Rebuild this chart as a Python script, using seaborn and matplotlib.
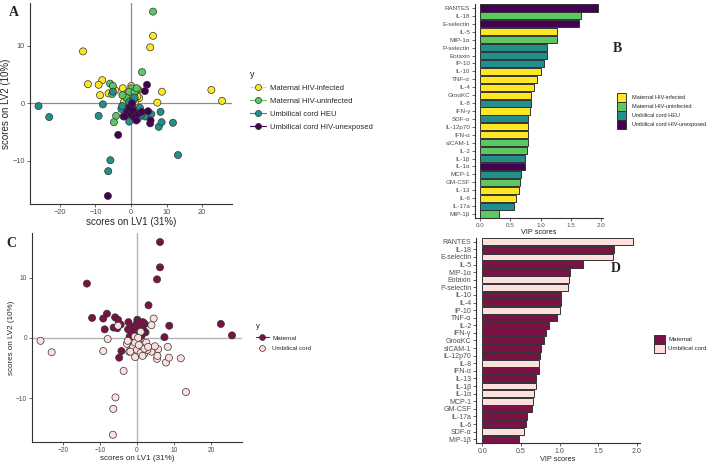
import numpy as np
import pandas as pd
import matplotlib
matplotlib.use("Agg")
import matplotlib.pyplot as plt
import seaborn as sns
from matplotlib.lines import Line2D

sns.set_theme(style="ticks")
plt.rcParams["font.family"] = ["Liberation Sans", "DejaVu Sans"]

W, H = 709, 465  # figure size in pixels

# ---- PLS-DA scores ----
groups = ["Maternal HIV-infected", "Maternal HIV-uninfected",
          "Umbilical cord HEU", "Umbilical cord HIV-unexposed"]
group_colors = ["#FDE725", "#5DC863", "#21908C", "#440154"]

mhi_lv1 = [-13.5, -12.1, -8.1, -9.1, -8.7, -6.3, -4.4, -2.3, 0.1, 2.1, 2.3, 5.4, 6.2, 8.7, 7.4, 22.6, 25.6,
           -1.5, -0.8, 0.5, 1.2, -2.0, 0.2, -1.0, 1.8]
mhi_lv2 = [9.0, 3.3, 4.0, 3.2, 1.4, 1.7, 2.2, 2.6, 3.0, 2.3, 0.9, 9.7, 11.7, 2.0, 0.1, 2.3, 0.4,
           1.2, 0.5, 1.5, 0.3, 0.2, -0.3, 1.8, 1.2]

mhu_lv1 = [6.2, 3.1, -5.9, -5.3, -4.2, -4.8, 0.1, 1.6, -5.1, -0.5, 1.0, -1.3, 0.8, -0.3, 1.6, -2.4]
mhu_lv2 = [15.9, 5.4, 3.4, 1.6, -2.2, -3.3, 2.6, 2.2, 3.0, 2.0, 1.9, 0.9, 0.6, -0.2, 2.6, 1.4]

heu_lv1 = [-26.0, -23.0, -9.1, -7.9, -5.1, -5.8, -6.4, 13.2, 11.8, 7.8, 8.6, 8.3, 5.7, 3.9, 1.9, -0.5, -2.7,
           -2.5, -1.2, 0.5, 1.5, 2.5, -0.6, 1.0, 2.8]
heu_lv2 = [-0.5, -2.4, -2.2, -0.2, 2.0, -9.9, -11.8, -9.0, -3.4, -4.1, -3.3, -1.5, -1.9, -2.3, -2.7, -3.2, -1.0,
           -0.5, -1.6, -0.8, -1.2, -0.8, 0.2, 1.0, -2.0]

hun_lv1 = [-6.5, -3.6, 4.5, 3.9, 5.4, 5.5, 4.8, -2.1, -1.0, 0.0, 1.0, 2.0, -0.5, 0.3, -1.8, 3.0, 1.5, 0.5]
hun_lv2 = [-16.1, -5.5, 3.2, 2.1, -3.5, -3.0, -1.4, -2.3, -1.5, -2.0, -2.5, -1.8, -0.8, 0.0, -2.3, -1.5, -3.0, -1.2]

tissues = ["Maternal", "Umbilical cord"]
tissue_colors = ["#7A1246", "#FDE0DD"]
tissue_of_group = {groups[0]: "Maternal", groups[1]: "Maternal",
                   groups[2]: "Umbilical cord", groups[3]: "Umbilical cord"}

# ---- VIP scores, panel B ----
vip4_cyto = ["RANTES", "IL-18", "E-selectin", "IL-5", "MIP-1α", "P-selectin", "Eotaxin", "IP-10",
             "IL-10", "TNF-α", "IL-4", "GroαKC", "IL-8", "IFN-γ", "SDF-α", "IL-12p70", "IFN-α",
             "sICAM-1", "IL-2", "IL-1β", "IL-1α", "MCP-1", "GM-CSF", "IL-13", "IL-6", "IL-17a", "MIP-1β"]
vip4_score = [1.95, 1.66, 1.64, 1.27, 1.27, 1.11, 1.10, 1.05, 1.00, 0.95, 0.89, 0.85, 0.85, 0.82, 0.80,
              0.80, 0.79, 0.79, 0.78, 0.75, 0.74, 0.68, 0.66, 0.64, 0.60, 0.56, 0.31]
vip4_group = [3, 1, 3, 0, 1, 2, 2, 2, 0, 0, 0, 0, 2, 0, 2, 0, 0, 1, 1, 2, 3, 2, 1, 0, 0, 2, 1]

# ---- VIP scores, panel D ----
vip2_cyto = ["RANTES", "IL-18", "E-selectin", "IL-5", "MIP-1α", "Eotaxin", "P-selectin", "IL-10",
             "IL-4", "IP-10", "TNF-α", "IL-2", "IFN-γ", "GroαKC", "sICAM-1", "IL-12p70", "IL-8",
             "IFN-α", "IL-13", "IL-1β", "IL-1α", "MCP-1", "GM-CSF", "IL-17a", "IL-6", "SDF-α", "MIP-1β"]
vip2_score = [1.95, 1.71, 1.69, 1.30, 1.14, 1.12, 1.11, 1.02, 1.02, 1.00, 0.97, 0.86, 0.82, 0.80, 0.76,
              0.75, 0.73, 0.73, 0.69, 0.69, 0.67, 0.66, 0.65, 0.58, 0.57, 0.54, 0.47]
vip2_group = [1, 0, 1, 0, 0, 1, 1, 0, 0, 1, 0, 0, 0, 0, 0, 0, 1, 0, 0, 1, 1, 1, 0, 0, 0, 1, 0]

# build tables
scores = pd.concat([
    pd.DataFrame({"LV1": mhi_lv1, "LV2": mhi_lv2, "y": groups[0]}),
    pd.DataFrame({"LV1": mhu_lv1, "LV2": mhu_lv2, "y": groups[1]}),
    pd.DataFrame({"LV1": heu_lv1, "LV2": heu_lv2, "y": groups[2]}),
    pd.DataFrame({"LV1": hun_lv1, "LV2": hun_lv2, "y": groups[3]}),
], ignore_index=True)
scores["tissue"] = scores["y"].map(tissue_of_group)

vipB = pd.DataFrame({"cytokine": vip4_cyto, "vip": vip4_score,
                     "y": [groups[i] for i in vip4_group]})
vipD = pd.DataFrame({"cytokine": vip2_cyto, "vip": vip2_score,
                     "y": [tissues[i] for i in vip2_group]})


def px_axes(fig, l, t, r, b):
    return fig.add_axes([l / W, 1 - b / H, (r - l) / W, (b - t) / H])


def classic(ax, fs):
    sns.despine(ax=ax)
    for s in ["left", "bottom"]:
        ax.spines[s].set_color("#333333")
        ax.spines[s].set_linewidth(0.8)
    ax.tick_params(labelsize=fs, colors="#4D4D4D", length=2, width=0.6, pad=1.5)


fig = plt.figure(figsize=(W / 100, H / 100), dpi=100)

# ---- A ----
axA = px_axes(fig, 30, 3, 232, 204)
axA.axhline(0, color="#8C8C8C", lw=0.9, zorder=0)
axA.axvline(0, color="#8C8C8C", lw=0.9, zorder=0)
sns.scatterplot(data=scores, x="LV1", y="LV2", hue="y", hue_order=groups, palette=group_colors,
                s=26, edgecolor="#333333", linewidth=0.5, legend=False, ax=axA, zorder=3)
axA.set_xlim(-28.4, 28.4)
axA.set_ylim(-17.5, 17.4)
axA.set_xticks([-20, -10, 0, 10, 20])
axA.set_yticks([-10, 0, 10])
classic(axA, 5.3)
axA.set_xlabel("scores on LV1 (31%)", fontsize=7, labelpad=1)
axA.set_ylabel("scores on LV2 (10%)", fontsize=7, labelpad=1)
hA = [Line2D([], [], color=c, marker="o", markersize=4.4, markeredgecolor="#333333",
             markeredgewidth=0.5, lw=0.8) for c in group_colors]
legA = axA.legend(hA, groups, title="y", loc="upper left", bbox_to_anchor=(246 / W, 1 - 66 / H),
                  bbox_transform=fig.transFigure, frameon=False, fontsize=5.5, title_fontsize=6.5,
                  handlelength=2.1, handletextpad=0.5, labelspacing=0.75, borderpad=0)
legA._legend_box.align = "left"

# ---- C ----
axC = px_axes(fig, 32, 233, 242, 442)
axC.axhline(0, color="#B3B3B3", lw=1.0, zorder=0)
axC.axvline(0, color="#B3B3B3", lw=1.0, zorder=0)
sns.scatterplot(data=scores, x="LV1", y="LV2", hue="tissue", hue_order=tissues, palette=tissue_colors,
                s=26, edgecolor="#333333", linewidth=0.5, legend=False, ax=axC, zorder=3)
axC.set_xlim(-28.3, 28.3)
axC.set_ylim(-17.3, 17.4)
axC.set_xticks([-20, -10, 0, 10, 20])
axC.set_yticks([-10, 0, 10])
classic(axC, 4.8)
axC.set_xlabel("scores on LV1 (31%)", fontsize=5.8, labelpad=1)
axC.set_ylabel("scores on LV2 (10%)", fontsize=5.8, labelpad=1)
hC = [Line2D([], [], color=c, marker="o", markersize=4.2, markeredgecolor="#333333",
             markeredgewidth=0.5, lw=0.8) for c in tissue_colors]
legC = axC.legend(hC, tissues, title="y", loc="upper left", bbox_to_anchor=(253 / W, 1 - 320 / H),
                  bbox_transform=fig.transFigure, frameon=False, fontsize=4.5, title_fontsize=5.5,
                  handlelength=2.0, handletextpad=0.6, labelspacing=0.8, borderpad=0)
legC._legend_box.align = "left"

# ---- B ----
axB = px_axes(fig, 475, 4, 603, 218)
sns.barplot(data=vipB, x="vip", y="cytokine", hue="y", hue_order=groups, palette=group_colors,
            dodge=False, width=0.9, edgecolor="#333333", linewidth=0.7, saturation=1, ax=axB)
axB.set_xlim(-0.08, 2.03)
axB.set_xticks([0, 0.5, 1.0, 1.5, 2.0])
axB.set_xticklabels(["0.0", "0.5", "1.0", "1.5", "2.0"])
classic(axB, 4.5)
axB.set_xlabel("VIP scores", fontsize=5.3, labelpad=1)
axB.set_ylabel("")
hB, lB = axB.get_legend_handles_labels()
axB.legend(hB, lB, loc="upper left", bbox_to_anchor=(614 / W, 1 - 90 / H),
           bbox_transform=fig.transFigure, frameon=False, fontsize=4, handlelength=1.6,
           handleheight=2.1, handletextpad=1.1, labelspacing=0, borderpad=0)

# ---- D ----
axD = px_axes(fig, 476, 238, 640, 443)
sns.barplot(data=vipD, x="vip", y="cytokine", hue="y", hue_order=tissues, palette=tissue_colors,
            dodge=False, width=0.9, edgecolor="#333333", linewidth=0.7, saturation=1, ax=axD)
axD.set_xlim(-0.08, 2.04)
axD.set_xticks([0, 0.5, 1.0, 1.5, 2.0])
axD.set_xticklabels(["0.0", "0.5", "1.0", "1.5", "2.0"])
classic(axD, 5)
axD.set_xlabel("VIP scores", fontsize=5.3, labelpad=1)
axD.set_ylabel("")
hD, lD = axD.get_legend_handles_labels()
axD.legend(hD, lD, loc="upper left", bbox_to_anchor=(651 / W, 1 - 332 / H),
           bbox_transform=fig.transFigure, frameon=False, fontsize=4.4, handlelength=1.8,
           handleheight=1.85, handletextpad=0.5, labelspacing=0, borderpad=0)

# panel letters
for letter, (x, y) in zip("ABCD", [(14, 13), (617, 48), (11, 243), (616, 269)]):
    fig.text(x / W, 1 - y / H, letter, fontsize=10, fontweight="bold",
             family=["Liberation Serif", "DejaVu Serif"], ha="center", va="center")

fig.savefig("out.png", dpi=100)
